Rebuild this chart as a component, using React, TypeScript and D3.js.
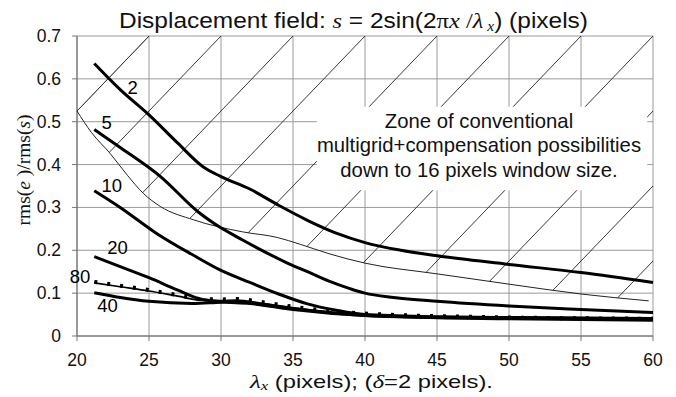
import React from "react";
import * as d3 from "d3";

const xTicks = [20, 25, 30, 35, 40, 45, 50, 55, 60];
const yTicks = [0, 0.1, 0.2, 0.3, 0.4, 0.5, 0.6, 0.7];
const yTickLabels = ["0", "0.1", "0.2", "0.3", "0.4", "0.5", "0.6", "0.7"];

type P = [number, number];

const curve2: P[] = [[21.2, 0.636], [23, 0.575], [25, 0.516], [27, 0.45], [28.75, 0.395], [30, 0.372], [32, 0.343], [34, 0.305], [36, 0.27], [38, 0.24], [40, 0.218], [42.5, 0.2], [45, 0.187], [50, 0.167], [55, 0.148], [60, 0.125]];
const curve5: P[] = [[21.2, 0.482], [23, 0.44], [25.8, 0.372], [28.4, 0.29], [29.5, 0.263], [31.5, 0.224], [33, 0.197], [34.5, 0.172], [36, 0.15], [37.5, 0.128], [39, 0.11], [40, 0.1], [42, 0.09], [45, 0.081], [50, 0.07], [55, 0.062], [60, 0.055]];
const curve10: P[] = [[21.2, 0.339], [23, 0.3], [25.5, 0.24], [28, 0.19], [30, 0.153], [32, 0.125], [34, 0.098], [36, 0.075], [38, 0.06], [40, 0.05], [45, 0.045], [50, 0.043], [55, 0.042], [60, 0.041]];
const curve20: P[] = [[21.2, 0.185], [23, 0.162], [25, 0.136], [27, 0.107], [28.5, 0.087], [30, 0.08], [32, 0.076], [35, 0.062], [40, 0.048], [45, 0.044], [50, 0.042], [60, 0.04]];
const curve80: P[] = [[21.2, 0.124], [23, 0.115], [25, 0.105], [27, 0.093], [28.5, 0.084], [30, 0.083], [31, 0.084], [33, 0.076], [35, 0.066], [40, 0.05], [50, 0.041], [60, 0.038]];
const curve40: P[] = [[21.2, 0.101], [23, 0.09], [25, 0.081], [28, 0.076], [30, 0.079], [31, 0.08], [33, 0.073], [35, 0.064], [40, 0.048], [50, 0.04], [60, 0.037]];
const boundary: P[] = [[20, 0.525], [21, 0.475], [22.3, 0.426], [23.5, 0.375], [24.6, 0.333], [25.8, 0.302], [28.1, 0.271], [31.5, 0.243], [33.9, 0.23], [35.5, 0.214], [37.5, 0.192], [40, 0.17], [45, 0.145], [50, 0.121], [55, 0.098], [59.7, 0.082]];

const hatchOffsets = [25, 30, 35, 40, 45, 50, 55, 60, 65, 70, 75];
const hatchSlope = 0.035;

const curveLabels = [
  { text: "2", x: 23.5, y: 0.565 },
  { text: "5", x: 21.7, y: 0.482 },
  { text: "10", x: 21.7, y: 0.336 },
  { text: "20", x: 22.1, y: 0.192 },
  { text: "80", x: 19.5, y: 0.124 },
  { text: "40", x: 21.4, y: 0.056 },
];

const boxLines = [
  "Zone of conventional",
  "multigrid+compensation possibilities",
  "down to 16 pixels window size.",
];

const W = 676, H = 397;
const M = { left: 77, right: 23, top: 36, bottom: 61 };

export default function App() {
  const x = d3.scaleLinear().domain([20, 60]).range([M.left, W - M.right]);
  const y = d3.scaleLinear().domain([0, 0.7]).range([H - M.bottom, M.top]);
  const line = d3.line<P>().x((d) => x(d[0])).y((d) => y(d[1])).curve(d3.curveMonotoneX);

  const clipD =
    line(boundary) +
    `L${x(60)},${y(0.08)}L${x(60)},${y(0.7)}L${x(25)},${y(0.7)}Z`;

  const sans = "Liberation Sans, Arial, sans-serif";
  const serif = "Liberation Serif, Times New Roman, serif";
  const gridC = "#9a9a9a";

  const boxX0 = x(36.65), boxX1 = x(59.6), boxY0 = y(0.535), boxY1 = y(0.34);

  return (
    <svg width={W} height={H} style={{ position: "absolute", left: 0, top: 0, background: "#fff" }}>
      <defs>
        <clipPath id="zone">
          <path d={clipD} />
        </clipPath>
      </defs>
      {/* grid */}
      {xTicks.map((t) => (
        <line key={"gx" + t} x1={x(t)} x2={x(t)} y1={y(0)} y2={y(0.7)} stroke={gridC} strokeWidth={1} />
      ))}
      {yTicks.map((t) => (
        <line key={"gy" + t} x1={x(20)} x2={x(60)} y1={y(t)} y2={y(t)} stroke={gridC} strokeWidth={1} />
      ))}
      {/* ticks */}
      {xTicks.map((t) => (
        <line key={"tx" + t} x1={x(t)} x2={x(t)} y1={y(0)} y2={y(0) + 5} stroke="#777" />
      ))}
      {yTicks.map((t) => (
        <line key={"ty" + t} x1={x(20) - 5} x2={x(20)} y1={y(t)} y2={y(t)} stroke="#777" />
      ))}
      <line x1={x(20)} x2={x(20)} y1={y(0)} y2={y(0.7)} stroke="#666" />
      <line x1={x(20)} x2={x(60)} y1={y(0)} y2={y(0)} stroke="#666" />
      {/* hatch */}
      <g clipPath="url(#zone)">
        {hatchOffsets.map((c) => (
          <line key={"h" + c} x1={x(c - 0.7 / hatchSlope)} y1={y(0)} x2={x(c)} y2={y(0.7)} stroke="#222" strokeWidth={0.9} />
        ))}
      </g>
      <line x1={x(20)} y1={y(0.525)} x2={x(25)} y2={y(0.7)} stroke="#222" strokeWidth={0.9} />
      <path d={line(boundary) || ""} fill="none" stroke="#222" strokeWidth={1} />
      {/* text box */}
      <rect x={boxX0} y={boxY0} width={boxX1 - boxX0} height={boxY1 - boxY0} fill="#fff" />
      {boxLines.map((t, i) => (
        <text key={"b" + i} x={479} y={128 + i * 24.3} textAnchor="middle" fontFamily={sans} fontSize={20.3} fill="#111">
          {t}
        </text>
      ))}
      {/* curves */}
      {[curve2, curve5, curve10, curve20, curve40].map((c, i) => (
        <path key={"c" + i} d={line(c) || ""} fill="none" stroke="#000" strokeWidth={3} strokeLinejoin="round" />
      ))}
      <path d={line(curve80) || ""} fill="none" stroke="#000" strokeWidth={1.6} />
      <path d={line(curve80) || ""} fill="none" stroke="#000" strokeWidth={4} strokeDasharray="3,10" transform="translate(0,-1)" />
      {/* curve labels */}
      {curveLabels.map((l) => (
        <text key={"l" + l.text} x={x(l.x)} y={y(l.y)} fontFamily={sans} fontSize={18.5} fill="#000">
          {l.text}
        </text>
      ))}
      {/* tick labels */}
      {xTicks.map((t) => (
        <text key={"xl" + t} x={x(t)} y={366} textAnchor="middle" fontFamily={sans} fontSize={17.5} fill="#111">
          {t}
        </text>
      ))}
      {yTicks.map((t, i) => (
        <text key={"yl" + t} x={61} y={y(t) + 6} textAnchor="end" fontFamily={sans} fontSize={17.5} fill="#111">
          {yTickLabels[i]}
        </text>
      ))}
      {/* title */}
      <text x={119} y={28} fontFamily={sans} fontSize={22} fill="#111" textLength={469} lengthAdjust="spacingAndGlyphs">
        <tspan>Displacement field: </tspan>
        <tspan fontFamily={serif} fontStyle="italic">s</tspan>
        <tspan>{"  = 2sin(2"}</tspan>
        <tspan fontFamily={serif}>π</tspan>
        <tspan fontFamily={serif} fontStyle="italic">x</tspan>
        <tspan fontFamily={serif}> /</tspan>
        <tspan fontFamily={serif} fontStyle="italic">λ</tspan>
        <tspan fontFamily={serif} fontStyle="italic" fontSize={14} dy={3}> x</tspan>
        <tspan dy={-3}>) (pixels)</tspan>
      </text>
      {/* x label */}
      <text x={250} y={388} fontFamily={sans} fontSize={18.5} fill="#111" textLength={243} lengthAdjust="spacingAndGlyphs">
        <tspan fontFamily={serif} fontStyle="italic" fontSize={19.5}>λ</tspan>
        <tspan fontFamily={serif} fontStyle="italic" fontSize={13} dy={2}>x</tspan>
        <tspan dy={-2}>{"  (pixels); ("}</tspan>
        <tspan fontFamily={serif} fontStyle="italic" fontSize={19.5}>δ</tspan>
        <tspan>=2 pixels).</tspan>
      </text>
      {/* y label */}
      <text transform="translate(30,170) rotate(-90)" textAnchor="middle" fontFamily={serif} fontSize={19.5} fill="#111">
        <tspan>rms(</tspan>
        <tspan fontStyle="italic">e</tspan>
        <tspan>{" )/rms("}</tspan>
        <tspan fontStyle="italic">s</tspan>
        <tspan>)</tspan>
      </text>
    </svg>
  );
}
